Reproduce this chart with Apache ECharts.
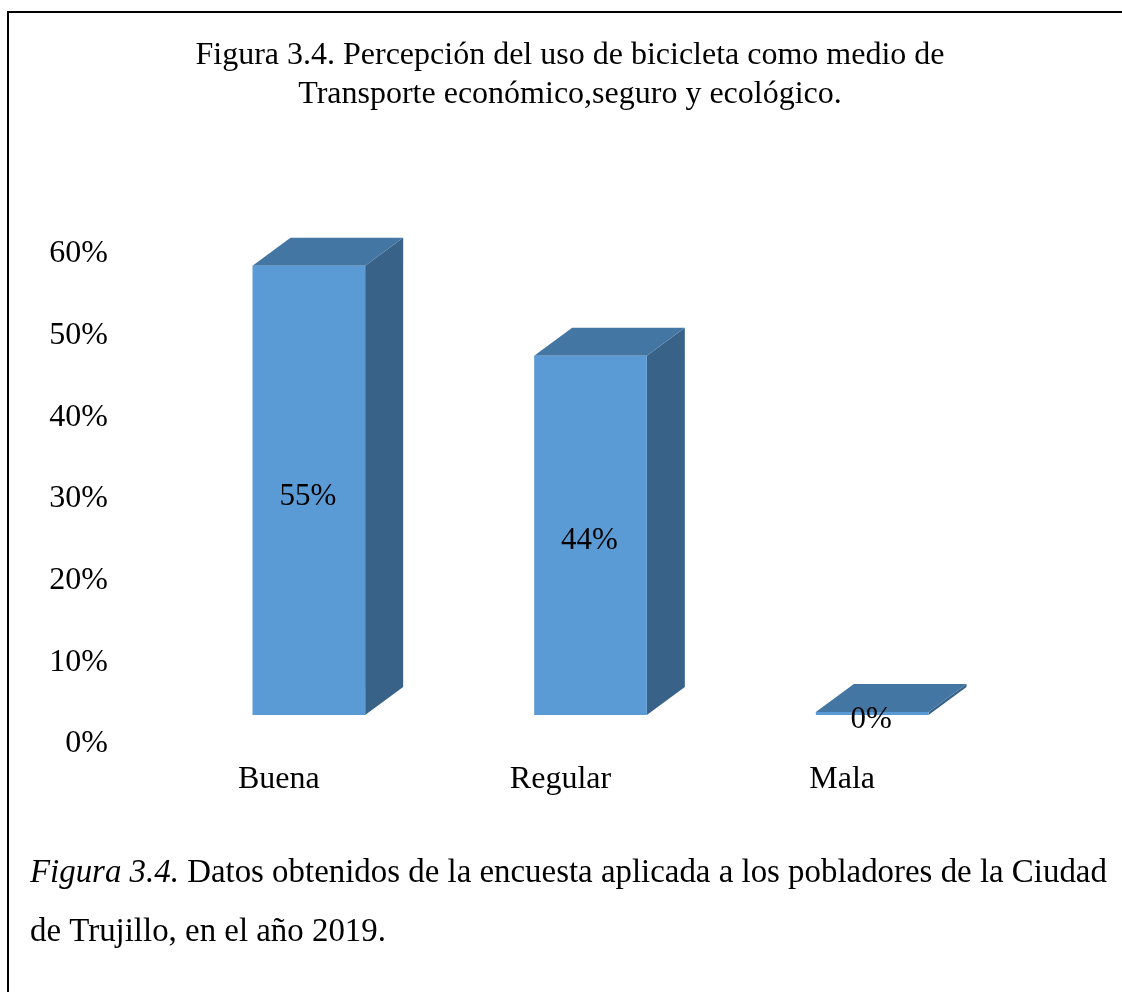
<!DOCTYPE html>
<html>
<head>
<meta charset="utf-8">
<title>Figura 3.4</title>
<script src="https://cdn.jsdelivr.net/npm/echarts@6/dist/echarts.min.js"></script>
<style>
  html, body { margin: 0; padding: 0; background: #fff; }
  #chart { width: 1122px; height: 992px; }
</style>
</head>
<body>
<div id="chart"></div>
<script>
var categories = ['Buena', 'Regular', 'Mala'];
var values = [55, 44, 0];
var yTicks = [0, 10, 20, 30, 40, 50, 60];

var titleLines = [
  'Figura 3.4. Percepción del uso de bicicleta como medio de',
  'Transporte económico,seguro y ecológico.'
];

var FONT = '"Liberation Serif", "Times New Roman", serif';
var DEPTH_X = 38, DEPTH_Y = -28; // profundidad 3D
var SHIFT_X = 30, SHIFT_Y = -25; // cara frontal respecto al eje

var chart = echarts.init(document.getElementById('chart'));

function renderBar(params, api) {
  var idx = api.value(0);
  var base = api.coord([idx, 0]);
  var top = api.coord([idx, api.value(1)]);
  var w = api.size([1, 0])[0] * 0.4;
  var x0 = base[0] + SHIFT_X - w / 2;
  var x1 = x0 + w;
  var yb = base[1] + SHIFT_Y;
  var yt = Math.min(top[1] + SHIFT_Y, yb - 3);
  return {
    type: 'group',
    children: [
      {
        type: 'polygon',
        shape: { points: [[x1, yt], [x1 + DEPTH_X, yt + DEPTH_Y], [x1 + DEPTH_X, yb + DEPTH_Y], [x1, yb]] },
        style: { fill: '#386288' }
      },
      {
        type: 'polygon',
        shape: { points: [[x0, yt], [x0 + DEPTH_X, yt + DEPTH_Y], [x1 + DEPTH_X, yt + DEPTH_Y], [x1, yt]] },
        style: { fill: '#4476A3' }
      },
      {
        type: 'rect',
        shape: { x: x0, y: yt, width: w, height: yb - yt },
        style: { fill: '#5B9BD5' }
      },
      {
        type: 'text',
        style: {
          x: (x0 + x1) / 2 - 1,
          y: (yt + yb) / 2 + 6,
          text: api.value(1) + '%',
          fill: '#000',
          font: '31px ' + FONT,
          align: 'center',
          verticalAlign: 'middle'
        },
        z2: 10
      }
    ]
  };
}

var option = {
  backgroundColor: '#fff',
  animation: false,
  grid: {
    left: 138,
    right: 139,
    top: 250,
    bottom: 252
  },
  xAxis: {
    type: 'category',
    data: categories,
    axisLine: { show: false },
    axisTick: { show: false },
    axisLabel: {
      margin: 24,
      color: '#000',
      fontFamily: FONT,
      fontSize: 32
    }
  },
  yAxis: {
    type: 'value',
    min: yTicks[0],
    max: yTicks[yTicks.length - 1],
    interval: 10,
    splitLine: { show: false },
    axisLine: { show: false },
    axisTick: { show: false },
    axisLabel: {
      margin: 30,
      formatter: '{a|{value}%}',
      rich: {
        a: {
          color: '#000',
          fontFamily: FONT,
          fontSize: 32,
          padding: [8, 0, 0, 0]
        }
      }
    }
  },
  graphic: [
    {
      type: 'polyline',
      shape: { points: [[8, 1100], [8, 12], [1200, 12]] },
      style: { stroke: '#000', lineWidth: 2, fill: null }
    },
    {
      type: 'text',
      x: 570,
      y: 36,
      style: {
        text: titleLines.join('\n'),
        font: '32px ' + FONT,
        fill: '#000',
        align: 'center',
        verticalAlign: 'top',
        lineHeight: 39
      }
    },
    {
      type: 'text',
      x: 30,
      y: 844,
      style: {
        text: '{i|Figura 3.4.} Datos obtenidos de la encuesta aplicada a los pobladores de la Ciudad\nde Trujillo, en el año 2019.',
        font: '32.9px ' + FONT,
        fill: '#000',
        verticalAlign: 'top',
        lineHeight: 59,
        rich: {
          i: { fontStyle: 'italic', fontFamily: FONT, fontSize: 32.9, lineHeight: 59 }
        }
      }
    }
  ],
  series: [{
    type: 'custom',
    renderItem: renderBar,
    data: values.map(function (v, i) { return [i, v]; })
  }]
};

chart.setOption(option);
</script>
</body>
</html>
